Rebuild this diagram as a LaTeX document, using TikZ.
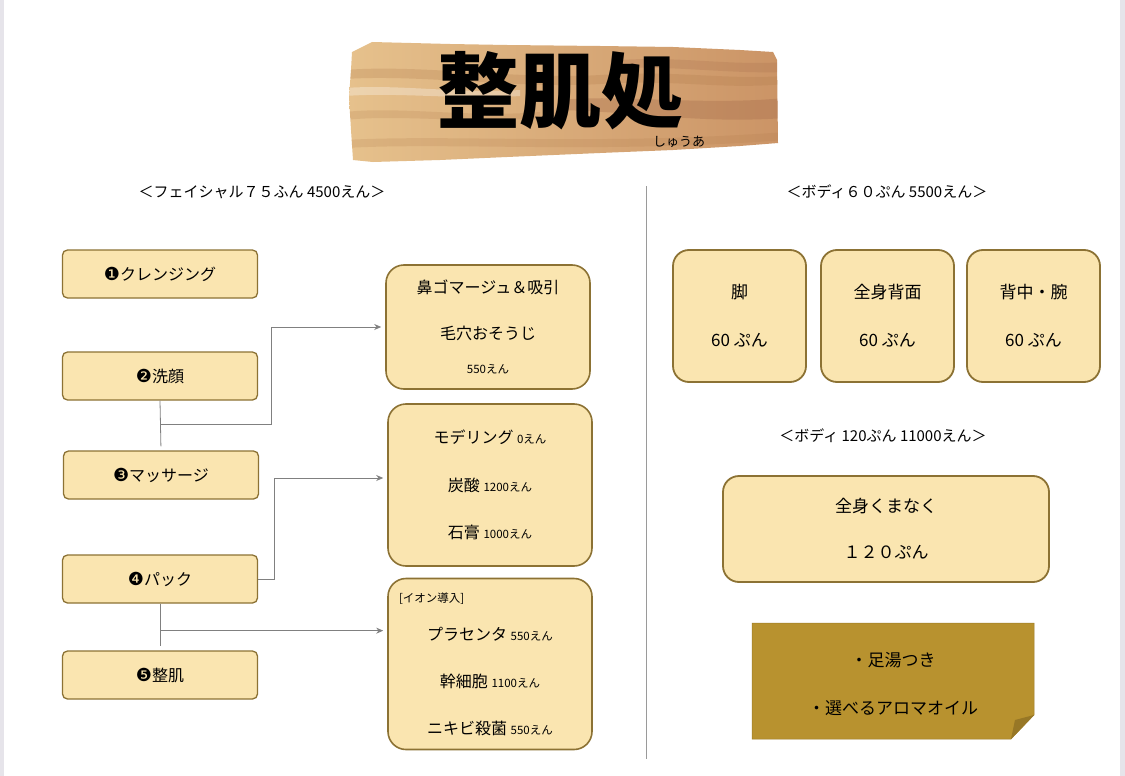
\documentclass[tikz,border=0pt]{standalone}
\usepackage{fontspec}
\setmainfont{Noto Sans CJK JP}
\newfontfamily\dingfont{DejaVu Sans}
\usetikzlibrary{arrows.meta,calc}

\definecolor{boxfill}{HTML}{FAE5B0}
\definecolor{boxline}{HTML}{8C7234}
\definecolor{notefill}{HTML}{B8922F}
\definecolor{notefold}{HTML}{977726}
\definecolor{woodlight}{HTML}{E6C18C}
\definecolor{woodmid}{HTML}{CB9466}
\definecolor{wooddark}{HTML}{B07A4A}
\definecolor{woodred}{HTML}{9E6446}
\definecolor{connline}{HTML}{808080}
\definecolor{pageedge}{HTML}{E6E4EA}

\newcommand\headfont{\fontsize{15}{18}\selectfont}
\newcommand\stepfont{\fontsize{16}{19}\selectfont}
\newcommand\menufont{\fontsize{16}{19}\selectfont}
\newcommand\pricefont{\fontsize{11.5}{13}\selectfont}
\newcommand\bodyfont{\fontsize{17}{20}\selectfont}
\newcommand\stepnum[1]{{\dingfont\fontsize{18}{19}\selectfont #1}}
\newcommand\woodpath{(352,52) -- (372,42) -- (450,44) -- (507,45) -- (600,46) -- (673,47) -- (740,50) -- (773,52) -- (777,60) -- (778,143) -- (740,146) -- (673,150) -- (600,153) -- (507,157) -- (440,160) -- (373,162) -- (353,160) -- (351,130) -- (349,97) -- (351,70) -- cycle}

\tikzset{
  stepbox/.style={draw=boxline,fill=boxfill,line width=1.3pt,rounded corners=5pt,
    minimum width=195pt,minimum height=48pt,font=\stepfont},
  menubox/.style={draw=boxline,fill=boxfill,line width=1.6pt,rounded corners=18pt,
    minimum width=204pt,align=center,font=\menufont},
  bodybox/.style={draw=boxline,fill=boxfill,line width=1.8pt,rounded corners=16pt,
    minimum width=133pt,minimum height=132pt,align=center,font=\bodyfont},
  headtext/.style={font=\headfont},
  conn/.style={draw=connline,line width=0.8pt,>={Stealth[length=7pt,width=6pt]},shorten >=4pt}
}

\begin{document}
\begin{tikzpicture}[x=1pt,y=-1pt]
  \useasboundingbox (0,0) rectangle (1125,776);
  \fill[white] (0,0) rectangle (1125,776);
  \fill[pageedge] (0,0) rectangle (4,776);
  \fill[pageedge] (1120,0) rectangle (1125,776);

  % wooden sign
  \shade[left color=woodlight,right color=woodmid] \woodpath;
  \begin{scope}
    \clip \woodpath;
    \fill[wooddark,opacity=0.25] (345,70) .. controls (420,64) and (520,80) .. (600,75) .. controls (680,70) and (720,80) .. (785,76) -- (785,84) .. controls (720,90) and (680,79) .. (600,84) .. controls (520,89) and (420,74) .. (345,79) -- cycle;
    \fill[woodred,opacity=0.3] (560,100) .. controls (620,94) and (700,106) .. (785,98) -- (785,118) .. controls (700,124) and (640,112) .. (560,110) -- cycle;
    \fill[wooddark,opacity=0.2] (345,112) .. controls (400,106) and (470,118) .. (540,112) -- (540,118) .. controls (470,124) and (400,114) .. (345,120) -- cycle;
    \fill[wooddark,opacity=0.2] (345,140) .. controls (450,134) and (600,146) .. (785,132) -- (785,140) .. controls (600,154) and (450,142) .. (345,148) -- cycle;
    \fill[white,opacity=0.3] (345,88) .. controls (400,84) and (460,94) .. (520,90) -- (520,96) .. controls (460,100) and (400,92) .. (345,96) -- cycle;
    \fill[woodred,opacity=0.2] (620,60) .. controls (680,56) and (730,66) .. (785,62) -- (785,72) .. controls (730,74) and (680,66) .. (620,68) -- cycle;
  \end{scope}
  \node[font=\fontsize{82}{82}\selectfont\bfseries] (title) at (560,91) {整肌処};
  \node[font=\fontsize{13}{15}\selectfont] (kana) at (679,142) {しゅうあ};

  % headers and divider
  \node[headtext] (hFace) at (262,192) {＜フェイシャル７５ふん 4500えん＞};
  \node[headtext] (hBody) at (887,192) {＜ボディ６０ぷん 5500えん＞};
  \node[headtext] (hFull) at (883,436) {＜ボディ 120ぷん 11000えん＞};
  \draw[connline!80,line width=1pt] (646,186) -- (646,759);

  % facial steps
  \node[stepbox] (s1) at (160,274) {\stepnum{❶}クレンジング};
  \node[stepbox] (s2) at (160,376) {\stepnum{❷}洗顔};
  \node[stepbox] (s3) at (161,475) {\stepnum{❸}マッサージ};
  \node[stepbox] (s4) at (160,579) {\stepnum{❹}パック};
  \node[stepbox] (s5) at (160,675) {\stepnum{❺}整肌};

  % options
  \node[menubox,minimum height=124pt] (optA) at (488,327)
    {鼻ゴマージュ＆吸引\\[27pt]毛穴おそうじ\\[15pt]{\pricefont 550えん}};
  \node[menubox,minimum height=162pt] (optB) at (490,485)
    {モデリング {\pricefont 0えん}\\[29pt]炭酸 {\pricefont 1200えん}\\[28pt]石膏 {\pricefont 1000えん}};
  \node[menubox,minimum height=171pt] (optC) at (490,664)
    {\makebox[182pt][l]{\pricefont [イオン導入]}\\[19pt]プラセンタ {\pricefont 550えん}\\[28pt]幹細胞 {\pricefont 1100えん}\\[28pt]ニキビ殺菌 {\pricefont 550えん}};

  % connectors
  \coordinate (j1) at ($(s2.south)+(0,24)$);
  \coordinate (j2) at ($(s4.south)+(0,27)$);
  \draw[conn] (s2.south) -- (s3.north);
  \draw[conn,->] (j1) -- ++(111,0) |- (optA.west);
  \draw[conn,->] (s4.east) -- ++(16,0) |- ([yshift=7pt]optB.west);
  \draw[conn] (s4.south) -- (s5.north);
  \draw[conn,->] (j2) -- (j2 -| optC.west);

  % body courses
  \node[bodybox] (body1) at (739.5,316) {脚\\[28pt]60 ぷん};
  \node[bodybox] (body2) at (887.5,316) {全身背面\\[28pt]60 ぷん};
  \node[bodybox] (body3) at (1033.5,316) {背中・腕\\[28pt]60 ぷん};
  \node[bodybox,minimum width=326pt,minimum height=106pt] (full) at (886,529)
    {全身くまなく\\[26pt]１２０ぷん};

  % sticky note
  \fill[notefill,draw=notefill!85!black,line width=0.5pt] (752,623) -- (1034,623) -- (1034,715) -- (1011,739) -- (752,739) -- cycle;
  \fill[notefold] (1034,715) -- (1011,739) -- (1015,720) -- cycle;
  \node[font=\bodyfont,align=center] (note) at (893,684) {・足湯つき\\[28pt]・選べるアロマオイル};
\end{tikzpicture}
\end{document}
